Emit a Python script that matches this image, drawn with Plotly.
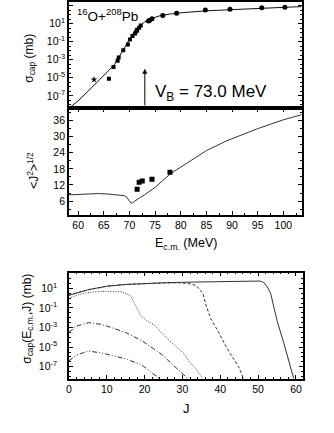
import numpy as np
import plotly.graph_objects as go

# ---------------- data ----------------
# top panel: capture cross section vs E_cm
calc_E = [58.4, 60, 62, 64, 66, 67, 68, 69, 70, 70.5, 71, 71.5, 72, 72.5, 73, 74, 76, 78, 80, 85, 90, 95, 100, 103.5]
calc_sigma = [5.0e-9, 2.8e-8, 3.5e-7, 4.5e-6, 5.6e-5, 2.5e-4, 2.2e-3, 2.0e-2, 0.16, 0.45, 1.5, 3.2, 5.6, 10, 15.8,
              31.6, 76, 117, 158, 263, 372, 501, 631, 759]

sq_E = [66.0, 66.9, 67.7, 67.9, 68.8, 69.7, 70.1, 70.6, 71.1, 71.4, 71.5, 71.9, 72.2]
sq_sigma = [7.9e-6, 1.6e-4, 7.9e-4, 1.8e-3, 1.1e-2, 5.0e-2, 0.17, 0.43, 0.79, 1.4, 2.1, 3.5, 6.3]

ci_E = [73.7, 73.9, 74.4, 76.5, 79.2, 84.8, 89.6, 95.8, 100.3]
ci_sigma = [20, 22, 34, 79, 141, 316, 398, 562, 631]

star_E = [63.1]
star_sigma = [6.3e-6]

VB = 73.0
arrow_top = 1e-4

# middle panel: <J^2>^1/2 vs E_cm
j_E = [58.2, 60, 62, 64, 66, 68, 69, 69.4, 69.8, 70.1, 70.3, 70.6, 71, 72, 73, 75, 78, 82, 85, 89, 95, 100, 103.6]
j_rms = [8.3, 8.5, 8.8, 8.8, 8.6, 8.3, 8.0, 7.6, 6.6, 5.6, 5.2, 5.4, 6.0, 7.2, 8.4, 11.1, 16.2, 21.3, 24.8, 28.5,
         33.0, 36.3, 38.2]

jp_E = [71.5, 71.9, 72.5, 74.4, 77.9]
jp_rms = [10.4, 13.0, 13.5, 14.1, 16.7]

# bottom panel: partial capture cross sections vs J
c1_J = [0, 1.5, 3, 5, 7, 10, 15, 20, 25, 30, 40, 48, 50.5, 51.5, 52.4, 53.3, 54.3, 55.0, 56.8, 59.0, 59.4]
c1_s = [2.0, 3.0, 4.5, 7.1, 10, 16.6, 25, 32, 37, 42, 52, 60, 56, 40, 14.5, 3.2, 6.3e-2, 5.0e-3, 2.5e-5,
        2.5e-8, 6.3e-9]

c2_J = [0, 1.5, 3, 5, 7, 10, 15, 20, 25, 29, 31.5, 33.6, 35.4, 36.2, 36.7, 37.5, 39.3, 41.9, 45.0, 46.1]
c2_s = [2.0, 3.0, 4.5, 7.1, 10, 16.6, 25, 32, 36, 37, 32, 20, 3.2, 0.2, 5.8e-2, 7.9e-3, 5.0e-4, 6.3e-6,
        7.9e-8, 6.3e-9]

c3_J = [0, 2, 4.3, 7, 10.4, 13.9, 16.1, 16.5, 17.8, 18.3, 19.2, 20.0, 20.6, 22.7, 26.2, 30.5, 31.5, 33.5, 35.4]
c3_s = [0.93, 2.0, 3.2, 4.5, 5.0, 4.5, 2.0, 1.35, 0.126, 5.8e-2, 1.26e-2, 7.9e-3, 5.0e-3, 1.6e-3, 6.3e-5,
        2.0e-6, 5.0e-7, 6.3e-8, 6.3e-9]

c4_J = [0, 2, 5.2, 8.7, 15, 19.2, 24.4, 28.8, 31.4]
c4_s = [3.2e-4, 1.4e-3, 3.2e-3, 2.1e-3, 3.2e-4, 4.7e-5, 2.0e-6, 5.6e-8, 6.3e-9]

c5_J = [0, 2, 5.2, 8.7, 15, 19.2, 21.8, 24.0]
c5_s = [4.0e-7, 1.6e-6, 4.0e-6, 2.5e-6, 6.3e-7, 1.6e-7, 2.5e-8, 6.3e-9]

log_tickvals_top = [1e3, 1e1, 1e-1, 1e-3, 1e-5, 1e-7]
log_ticktext_top = ["10<sup>3</sup>", "10<sup>1</sup>", "10<sup>-1</sup>", "10<sup>-3</sup>",
                    "10<sup>-5</sup>", "10<sup>-7</sup>"]
log_tickvals_bot = [1e1, 1e-1, 1e-3, 1e-5, 1e-7]
log_ticktext_bot = ["10<sup>1</sup>", "10<sup>-1</sup>", "10<sup>-3</sup>", "10<sup>-5</sup>", "10<sup>-7</sup>"]
E_ticks = [60, 65, 70, 75, 80, 85, 90, 95, 100]
E_minor = [57.5, 62.5, 67.5, 72.5, 77.5, 82.5, 87.5, 92.5, 97.5, 102.5]
J2_ticks = [6, 12, 18, 24, 30, 36]
J_ticks = [0, 10, 20, 30, 40, 50, 60]

# ---------------- figure ----------------
W, H = 334, 433
FONT = "Liberation Sans, Arial, sans-serif"
LC = "#111"

fig = go.Figure()

fig.add_trace(go.Scatter(x=calc_E, y=calc_sigma, mode="lines", line=dict(color=LC, width=1),
                         xaxis="x", yaxis="y", showlegend=False))
fig.add_trace(go.Scatter(x=sq_E, y=sq_sigma, mode="markers", marker=dict(symbol="square", size=4, color="black"),
                         xaxis="x", yaxis="y", showlegend=False))
fig.add_trace(go.Scatter(x=ci_E, y=ci_sigma, mode="markers", marker=dict(symbol="circle", size=5, color="black"),
                         xaxis="x", yaxis="y", showlegend=False))
fig.add_trace(go.Scatter(x=star_E, y=star_sigma, mode="markers", marker=dict(symbol="star", size=5, color="black"),
                         xaxis="x", yaxis="y", showlegend=False))

fig.add_trace(go.Scatter(x=j_E, y=j_rms, mode="lines", line=dict(color="#333", width=1),
                         xaxis="x2", yaxis="y2", showlegend=False))
fig.add_trace(go.Scatter(x=jp_E, y=jp_rms, mode="markers", marker=dict(symbol="square", size=5, color="black"),
                         xaxis="x2", yaxis="y2", showlegend=False))

curve_styles = [
    (c1_J, c1_s, "solid"),
    (c2_J, c2_s, "3px,2px"),
    (c3_J, c3_s, "1px,1.5px"),
    (c4_J, c4_s, "5px,2px,1px,2px"),
    (c5_J, c5_s, "5px,2px,1px,2px,1px,2px"),
]
for jj, ss, dash in curve_styles:
    fig.add_trace(go.Scatter(x=jj, y=ss, mode="lines",
                             line=dict(color="#333", width=1, dash=dash),
                             xaxis="x3", yaxis="y3", showlegend=False))

xl, xr = 66.5 / W, 301.5 / W
def ydom(top_px, bot_px):
    return [1 - bot_px / H, 1 - top_px / H]

common = dict(showline=True, linecolor="black", linewidth=1.5, ticks="inside", mirror="ticks",
              ticklen=4, tickwidth=1, tickcolor="black", showgrid=False, zeroline=False,
              tickfont=dict(family=FONT, size=10.5, color="black"))

def minor_lin(dt, t0):
    return dict(ticks="inside", ticklen=2, dtick=dt, tick0=t0, tickcolor="black", showgrid=False)

def minor_vals(vals):
    return dict(ticks="inside", ticklen=2, showgrid=False, tickcolor="black", tickvals=vals)

TOP_RANGE = [-8.35, 3.45]
fig.update_layout(
    width=W, height=H, margin=dict(l=0, r=0, t=0, b=0),
    paper_bgcolor="white", plot_bgcolor="white", hovermode=False,
    xaxis=dict(domain=[xl, xr], range=[58.2, 103.6], anchor="y", showline=True, linecolor="black",
               linewidth=1.5, mirror=True, ticks="", showticklabels=False, showgrid=False, zeroline=False),
    yaxis=dict(domain=ydom(1.5, 108), type="log", range=TOP_RANGE, anchor="x",
               tickvals=log_tickvals_top, ticktext=log_ticktext_top,
               minor=minor_vals([10 ** (k / 2) for k in range(-16, 7)]), **common),
    xaxis2=dict(domain=[xl, xr], range=[58.2, 103.6], anchor="y2", tickvals=E_ticks,
                minor=minor_vals(E_minor), **common),
    yaxis2=dict(domain=ydom(108, 215), range=[0.8, 40.7], anchor="x2", tickvals=J2_ticks,
                minor=minor_lin(3, 0), **common),
    xaxis3=dict(domain=[xl, 302.5 / W], range=[0, 61.8], anchor="y3", tickvals=J_ticks,
                minor=minor_lin(2, 0), **common),
    yaxis3=dict(domain=ydom(272.7, 378.5), type="log", range=[-8.2, 2.6], anchor="x3",
                tickvals=log_tickvals_bot, ticktext=log_ticktext_bot, ticklabelstandoff=8,
                minor=minor_vals([10 ** (k / 2) for k in range(-16, 6)]), **common),
)

# arrow at V_B: head drawn as an annotation with its tail at the panel bottom
ann = []
ann.append(dict(x=VB, y=np.log10(arrow_top), xref="x", yref="y", ax=0, ay=38, axref="pixel", ayref="pixel",
                showarrow=True, arrowhead=2, arrowsize=1, arrowwidth=1, arrowcolor="black", text=""))
ann.append(dict(x=74.6, y=-6.7, xref="x", yref="y", xanchor="left", yanchor="middle", showarrow=False,
                text="V<sub>B</sub> = 73.0 MeV", font=dict(family=FONT, size=17, color="black")))
ann.append(dict(x=59.4, y=1.9, xref="x", yref="y", xanchor="left", yanchor="middle", showarrow=False,
                text="<sup>16</sup>O+<sup>208</sup>Pb", font=dict(family=FONT, size=13.5, color="black")))
# axis titles
def title_ann(xp, yp, text, size, angle=0):
    return dict(x=xp / W, y=1 - yp / H, xref="paper", yref="paper", textangle=angle, showarrow=False,
                xanchor="center", yanchor="middle", text=text, font=dict(family=FONT, size=size, color="black"))

ann.append(title_ann(27, 58, "σ<sub>cap</sub> (mb)", 12, -90))
ann.append(title_ann(30, 170, "<J<sup>2</sup>><sup>1/2</sup>", 12, -90))
ann.append(title_ann(25, 319, "σ<sub>cap</sub>(E<sub>c.m.</sub>,J) (mb)", 12, -90))
ann.append(title_ann(185, 244, "E<sub>c.m.</sub> (MeV)", 12.5))
ann.append(title_ann(185, 408, "J", 13))
fig.update_layout(annotations=ann)

fig.write_html("out.html", config={"displayModeBar": False},
               post_script="document.body.style.margin='0';document.body.style.overflow='hidden';")
